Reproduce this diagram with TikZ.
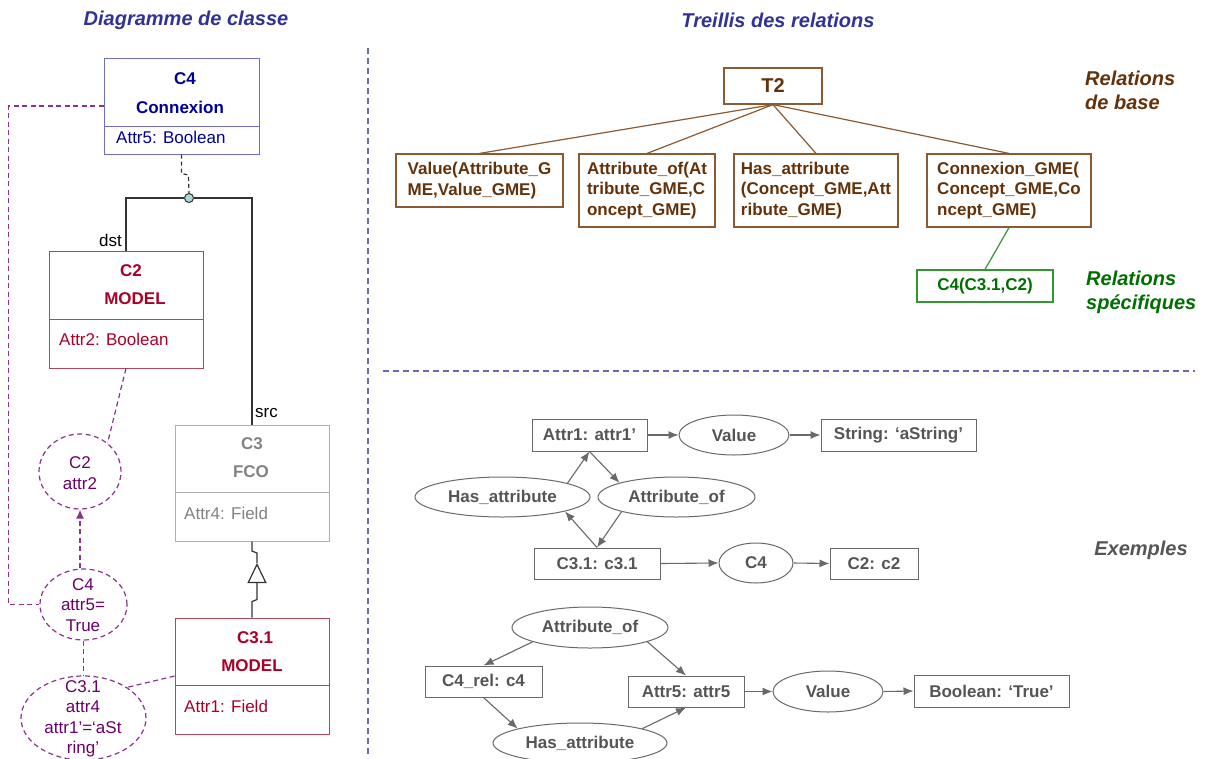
\documentclass[tikz,border=0pt]{standalone}
\usepackage{fontspec}
\setmainfont{Liberation Sans}
\usetikzlibrary{shapes.geometric,arrows.meta}
\definecolor{sepblue}{RGB}{105,105,180}
\definecolor{titleblue}{RGB}{50,50,150}
\definecolor{cfblue}{RGB}{0,0,150}
\definecolor{cfblueb}{RGB}{110,110,200}
\definecolor{crim}{RGB}{170,0,40}
\definecolor{crimb}{RGB}{180,70,90}
\definecolor{gtext}{RGB}{130,130,130}
\definecolor{gbord}{RGB}{175,175,175}
\definecolor{purp}{RGB}{105,0,105}
\definecolor{purpl}{RGB}{140,50,140}
\definecolor{brownt}{RGB}{100,50,10}
\definecolor{brownb}{RGB}{140,90,50}
\definecolor{greent}{RGB}{0,110,0}
\definecolor{greenb}{RGB}{50,150,50}
\definecolor{ext}{RGB}{85,85,85}
\definecolor{exl}{RGB}{105,105,105}
\definecolor{circfill}{RGB}{170,215,215}
\tikzset{
  fr/.style={font=\fontsize{17}{20.5}\selectfont},
  fb/.style={font=\fontsize{17}{20.5}\selectfont\bfseries},
  ftitle/.style={font=\fontsize{20}{24}\selectfont\bfseries\itshape},
  sepline/.style={draw=sepblue, line width=1.1, dash pattern=on 6 off 4},
  cbox/.style={rectangle, draw, line width=1, inner sep=0},
  ctext/.style={fr, inner sep=0},
  ctextb/.style={fb, inner sep=0},
  pell/.style={ellipse, draw=purpl, line width=1.2, dash pattern=on 5 off 3.5, inner sep=0},
  ptext/.style={fr, text=purp, align=center, inner sep=0},
  pdash/.style={draw=purpl, line width=1.2, dash pattern=on 5 off 3.5},
  lbox/.style={rectangle, draw=brownb, line width=1.2, text=brownt, fb, align=left, inner sep=0},
  brline/.style={draw=brownb, line width=1.2},
  gbox/.style={rectangle, draw=greenb, line width=1.2, text=greent, fb, inner sep=0},
  gline/.style={draw=greenb, line width=1.2},
  exbox/.style={rectangle, draw=exl, line width=1, text=ext, fb, inner sep=0},
  exell/.style={ellipse, draw=exl, line width=1, text=ext, fb, inner sep=0},
  exarr/.style={draw=exl, line width=1.1, -{Latex[length=10,width=8]}},
  uml/.style={draw=black!80, line width=1.2},
}
\begin{document}
\begin{tikzpicture}[x=1pt,y=-1pt]
\useasboundingbox[fill=white] (0,0) rectangle (1206,758);

% titles
\node[ftitle, text=titleblue] (title1) at (186,20) {Diagramme de classe};
\node[ftitle, text=titleblue] (title2) at (778,20) {Treillis des relations};

% separators
\draw[sepline] (368,48) -- (368,758);
\draw[sepline] (383,371) -- (1195,371);

% ---------- class diagram ----------
\node[cbox, draw=cfblueb, minimum width=155, minimum height=96] (c4box) at (181.5,106) {};
\draw[draw=cfblueb, line width=1] (104,126) -- (259,126);
\node[ctextb, text=cfblue] (c4n) at (185,79) {C4};
\node[ctextb, text=cfblue] (c4s) at (180,107) {Connexion};
\node[ctext, text=cfblue, anchor=west] (c4a) at (116,137) {Attr5: Boolean};

\node[cbox, draw=crimb, minimum width=154, minimum height=117] (c2box) at (126,309.5) {};
\draw[draw=crimb, line width=1] (49,319) -- (203,319);
\node[ctextb, text=crim] (c2n) at (131,271) {C2};
\node[ctextb, text=crim] (c2s) at (135,299) {MODEL};
\node[ctext, text=crim, anchor=west] (c2a) at (59,339) {Attr2: Boolean};

\node[cbox, draw=gbord, minimum width=154, minimum height=116] (c3box) at (252,483) {};
\draw[draw=gbord, line width=1] (175,492) -- (329,492);
\node[ctextb, text=gtext] (c3n) at (252,444) {C3};
\node[ctextb, text=gtext] (c3s) at (251,472) {FCO};
\node[ctext, text=gtext, anchor=west] (c3a) at (184,513) {Attr4: Field};

\node[cbox, draw=crimb, minimum width=154, minimum height=116] (c31box) at (252,676) {};
\draw[draw=crimb, line width=1] (175,685) -- (329,685);
\node[ctextb, text=crim] (c31n) at (255,638) {C3.1};
\node[ctextb, text=crim] (c31s) at (252,666) {MODEL};
\node[ctext, text=crim, anchor=west] (c31a) at (184,706) {Attr1: Field};

% connection C4
\node[circle, draw=black!80, line width=1, fill=circfill, minimum size=9, inner sep=0] (circ) at (189,198) {};
\draw[uml] (c2box.north) |- (circ.west);
\draw[uml] (c3box.north) |- (circ.east);
\draw[draw=black!80, line width=1.2, dash pattern=on 4 off 3] (c4box.south) -- ++(0,19) -- ++(7,1.5) -- (circ.north);
\node[ctext, anchor=east] (dst) at (122,240) {dst};
\node[ctext, anchor=west] (src) at (255,413) {src};

% generalization
\draw[uml, -{Triangle[open, length=20, width=19, line width=1.2]}] (c31box.north) -- ++(0,-16) -- ++(5,-2) -- (257,563);
\draw[uml] (257,563) -- ++(0,-10) -- ++(-5,-2) -- (c3box.south);

% instance ellipses
\node[pell, minimum width=82, minimum height=75] (e2) at (80,471.5) {};
\node[ptext] (e2t) at (80,473) {C2\\attr2};
\node[pell, minimum width=87, minimum height=71] (e5) at (83.5,604.5) {};
\node[ptext] (e5t) at (83,605) {C4\\attr5=\\True};
\node[pell, minimum width=125, minimum height=84] (e31) at (83.5,718) {};
\node[ptext] (e31t) at (83,719) {C3.1\\attr4\\attr1’=‘aSt\\ring’};

\draw[pdash] (c2box.south) -- (e2.46);
\draw[pdash, -{Latex[length=9,width=8]}] (e2.south |- e5.north) -- (e2.south);
\draw[pdash] (c4box.west) -- ++(-95,0) |- (e5.west);
\draw[pdash] (e5.south) -- (e31.north);
\draw[pdash] (c31box.west) -- (e31.35);

% ---------- lattice ----------
\node[lbox, minimum width=98, minimum height=36, font=\fontsize{20}{24}\selectfont\bfseries] (t2) at (773,86) {T2};
\node[lbox, minimum width=167, minimum height=53] (r1) at (479.5,180.5) {Value(Attribute\_G\\ME,Value\_GME)};
\node[lbox, minimum width=136, minimum height=73] (r2) at (647,190.5) {Attribute\_of(At\\tribute\_GME,C\\oncept\_GME)};
\node[lbox, minimum width=164, minimum height=73] (r3) at (816,190.5) {Has\_attribute\\(Concept\_GME,Att\\ribute\_GME)};
\node[lbox, minimum width=164, minimum height=73] (r4) at (1009,190.5) {Connexion\_GME(\\Concept\_GME,Co\\ncept\_GME)};
\node[gbox, minimum width=136, minimum height=32] (g1) at (985,286) {C4(C3.1,C2)};
\draw[brline] (t2.south) -- (r1.north);
\draw[brline] (t2.south) -- (r2.north);
\draw[brline] (t2.south) -- (r3.north);
\draw[brline] (t2.south) -- (r4.north);
\draw[gline] (r4.south) -- (g1.north);

\node[ftitle, text=brownt, align=left, anchor=west, inner sep=0] (relb) at (1085,90) {Relations\\de base};
\node[ftitle, text=greent, align=left, anchor=west, inner sep=0] (rels) at (1086,292) {Relations\\spécifiques};
\node[ftitle, text=ext] (exs) at (1141,550) {Exemples};

% ---------- examples ----------
\node[exbox, minimum width=115, minimum height=32] (a1) at (589.5,435) {Attr1: attr1’};
\node[exell, minimum width=110, minimum height=40] (v1) at (734,435) {Value};
\node[exbox, minimum width=155, minimum height=32] (s1) at (898.5,435) {String: ‘aString’};
\node[exell, minimum width=175, minimum height=40] (ha1) at (502.5,497) {Has\_attribute};
\node[exell, minimum width=157, minimum height=40] (ao1) at (676.5,497) {Attribute\_of};
\node[exbox, minimum width=126, minimum height=31] (c31e) at (597,563.5) {C3.1: c3.1};
\node[exell, minimum width=74, minimum height=40] (c4e) at (756,563) {C4};
\node[exbox, minimum width=88, minimum height=31] (c2e) at (874,563.5) {C2: c2};

\draw[exarr] (a1.east) -- (v1.west);
\draw[exarr] (v1.east) -- (s1.west);
\draw[exarr] (ha1.12) -- (a1.south);
\draw[exarr] (a1.south) -- (ao1.166);
\draw[exarr] (c31e.north) -- (ha1.-13);
\draw[exarr] (ao1.195) -- (c31e.north);
\draw[exarr] (c31e.east) -- (c4e.west);
\draw[exarr] (c4e.east) -- (c2e.west);

\node[exell, minimum width=156, minimum height=41] (ao2) at (590,627.5) {Attribute\_of};
\node[exbox, minimum width=117, minimum height=31] (c4r) at (483.5,681.5) {C4\_rel: c4};
\node[exbox, minimum width=116, minimum height=31] (a5) at (686,691.5) {Attr5: attr5};
\node[exell, minimum width=110, minimum height=41] (v2) at (828,691.5) {Value};
\node[exbox, minimum width=155, minimum height=32] (b2) at (991.5,691) {Boolean: ‘True’};
\node[exell, minimum width=174, minimum height=40] (ha2) at (580,743) {Has\_attribute};

\draw[exarr] (ao2.194) -- (c4r.north);
\draw[exarr] (ao2.-14) -- (a5.north);
\draw[exarr] (c4r.south) -- (ha2.167);
\draw[exarr] (ha2.13) -- (a5.south);
\draw[exarr] (a5.east) -- (v2.west);
\draw[exarr] (v2.east) -- (b2.west);
\end{tikzpicture}
\end{document}
